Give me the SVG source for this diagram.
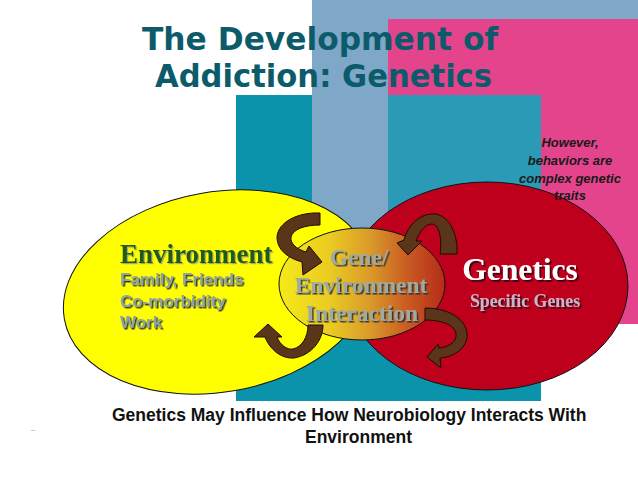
<svg xmlns="http://www.w3.org/2000/svg" width="638" height="479" viewBox="0 0 638 479">
<style>
.title{font-family:"DejaVu Sans",Verdana,sans-serif;font-weight:bold;font-size:31.5px;fill:#0c5b6b}
.note{font-family:"Liberation Sans",Arial,sans-serif;font-weight:bold;font-style:italic;font-size:13px;fill:#1a1a1a;text-anchor:middle}
.cap{font-family:"Liberation Sans",Arial,sans-serif;font-weight:bold;font-size:17.5px;fill:#111}
.serif{font-family:"Liberation Serif","Times New Roman",serif;font-weight:bold}
.sans{font-family:"Liberation Sans",Arial,sans-serif;font-weight:bold}
.arrow{fill:#5a3519;stroke:#1a0c02;stroke-width:1;stroke-linejoin:round}
.edge{stroke:#111;stroke-width:1}
</style>
<defs>
<linearGradient id="geneGrad" x1="0" y1="0" x2="1" y2="0">
<stop offset="0" stop-color="#f4ea18"/>
<stop offset="0.3" stop-color="#ebcc22"/>
<stop offset="0.55" stop-color="#da9a2a"/>
<stop offset="0.78" stop-color="#c85a22"/>
<stop offset="1" stop-color="#b52c18"/>
</linearGradient>
<filter id="shDark" x="-10%" y="-20%" width="120%" height="150%">
<feDropShadow dx="1.5" dy="1.5" stdDeviation="0.4" flood-color="#2a2a2a" flood-opacity="0.9"/>
</filter>
<filter id="shLight" x="-10%" y="-20%" width="120%" height="150%">
<feDropShadow dx="1.2" dy="1.2" stdDeviation="0.4" flood-color="#9a9a70" flood-opacity="0.9"/>
</filter>
<filter id="shRed" x="-10%" y="-20%" width="120%" height="150%">
<feDropShadow dx="1.8" dy="1.8" stdDeviation="0.5" flood-color="#3a0008" flood-opacity="0.9"/>
</filter>
</defs>
<rect width="638" height="479" fill="#ffffff"/>
<g id="background">
<rect x="312" y="0" width="326" height="300" fill="#7ea7c8"/>
<rect x="388" y="19" width="250" height="305" fill="#e4448c"/>
<rect x="236" y="95" width="305" height="306" fill="#0a93aa"/>
<rect x="388" y="95" width="153" height="229" fill="#2a9ab7"/>
<rect x="312" y="95" width="76" height="205" fill="#7ea7c8"/>
<rect x="31" y="430" width="4" height="1" fill="#c8c8c8"/>
</g>
<g id="title">
<text class="title" x="142" y="50" textLength="356" lengthAdjust="spacingAndGlyphs">The Development of</text>
<text class="title" x="155" y="87" textLength="337" lengthAdjust="spacingAndGlyphs">Addiction: Genetics</text>
</g>
<g id="environment">
<ellipse cx="218" cy="292" rx="156" ry="100" transform="rotate(-10 218 292)" fill="#ffff00" class="edge"/>
</g>
<g id="genetics">
<ellipse cx="487" cy="286" rx="141" ry="104" fill="#bf001c" class="edge"/>
</g>
<g id="interaction">
<ellipse cx="362" cy="284" rx="83" ry="56" fill="url(#geneGrad)" class="edge"/>
</g>
<g id="connectors">
<path class="arrow" d="M320,213 C298,212 278,222 277,237 C277,250 288,258 302,262 L303,275 L322,262 L309,246 L306,252 C296,249 290,243 291,237 C293,229 305,225 320,225 Z"/>
<path class="arrow" d="M308,325 L323,325 C323,340 312,355 294,358 C282,359 270,350 265,337 L254,337 L268,324 L282,337 L277,337 C280,345 287,350 293,349 C302,347 308,337 308,325 Z"/>
<path class="arrow" d="M440,254 L457,254 C458,235 450,216 435,214 C420,213 408,225 404,240 L397,243 L408,255 L422,241 L416,241 C420,230 426,224 432,224 C440,225 442,240 440,254 Z"/>
<path class="arrow" d="M425,308 C447,308 466,318 467,334 C468,347 455,357 440,358 L441,368 L427,357 L438,344 L439,348 C450,347 457,341 456,334 C455,325 442,320 425,320 Z"/>
</g>
<g id="environment-labels">
<text class="serif" x="120" y="263" font-size="27" fill="#1f5c12" filter="url(#shLight)">Environment</text>
<text class="sans" x="120" y="285" font-size="17" fill="#8ea4a0" filter="url(#shDark)">Family, Friends</text>
<text class="sans" x="120" y="307" font-size="17" fill="#8ea4a0" filter="url(#shDark)">Co-morbidity</text>
<text class="sans" x="120" y="328" font-size="17" fill="#8ea4a0" filter="url(#shDark)">Work</text>
</g>
<g id="interaction-labels" text-anchor="middle">
<text class="serif" x="359" y="265" font-size="23.5" fill="#9eaaa4" filter="url(#shDark)">Gene/</text>
<text class="serif" x="361" y="293" font-size="23.5" fill="#9eaaa4" filter="url(#shDark)">Environment</text>
<text class="serif" x="362" y="321" font-size="23.5" fill="#9eaaa4" filter="url(#shDark)">Interaction</text>
</g>
<g id="genetics-labels" text-anchor="middle">
<text class="serif" x="520" y="280" font-size="31.5" fill="#ffffff" filter="url(#shRed)">Genetics</text>
<text class="serif" x="525" y="307" font-size="17.8" fill="#c8b4c8" filter="url(#shRed)">Specific Genes</text>
</g>
<g id="note">
<text class="note" x="570" y="147">However,</text>
<text class="note" x="570" y="165">behaviors are</text>
<text class="note" x="570" y="183">complex genetic</text>
<text class="note" x="570" y="200">traits</text>
</g>
<g id="caption">
<text class="cap" x="112" y="421">Genetics May Influence How Neurobiology Interacts With</text>
<text class="cap" x="305" y="443">Environment</text>
</g>
</svg>
